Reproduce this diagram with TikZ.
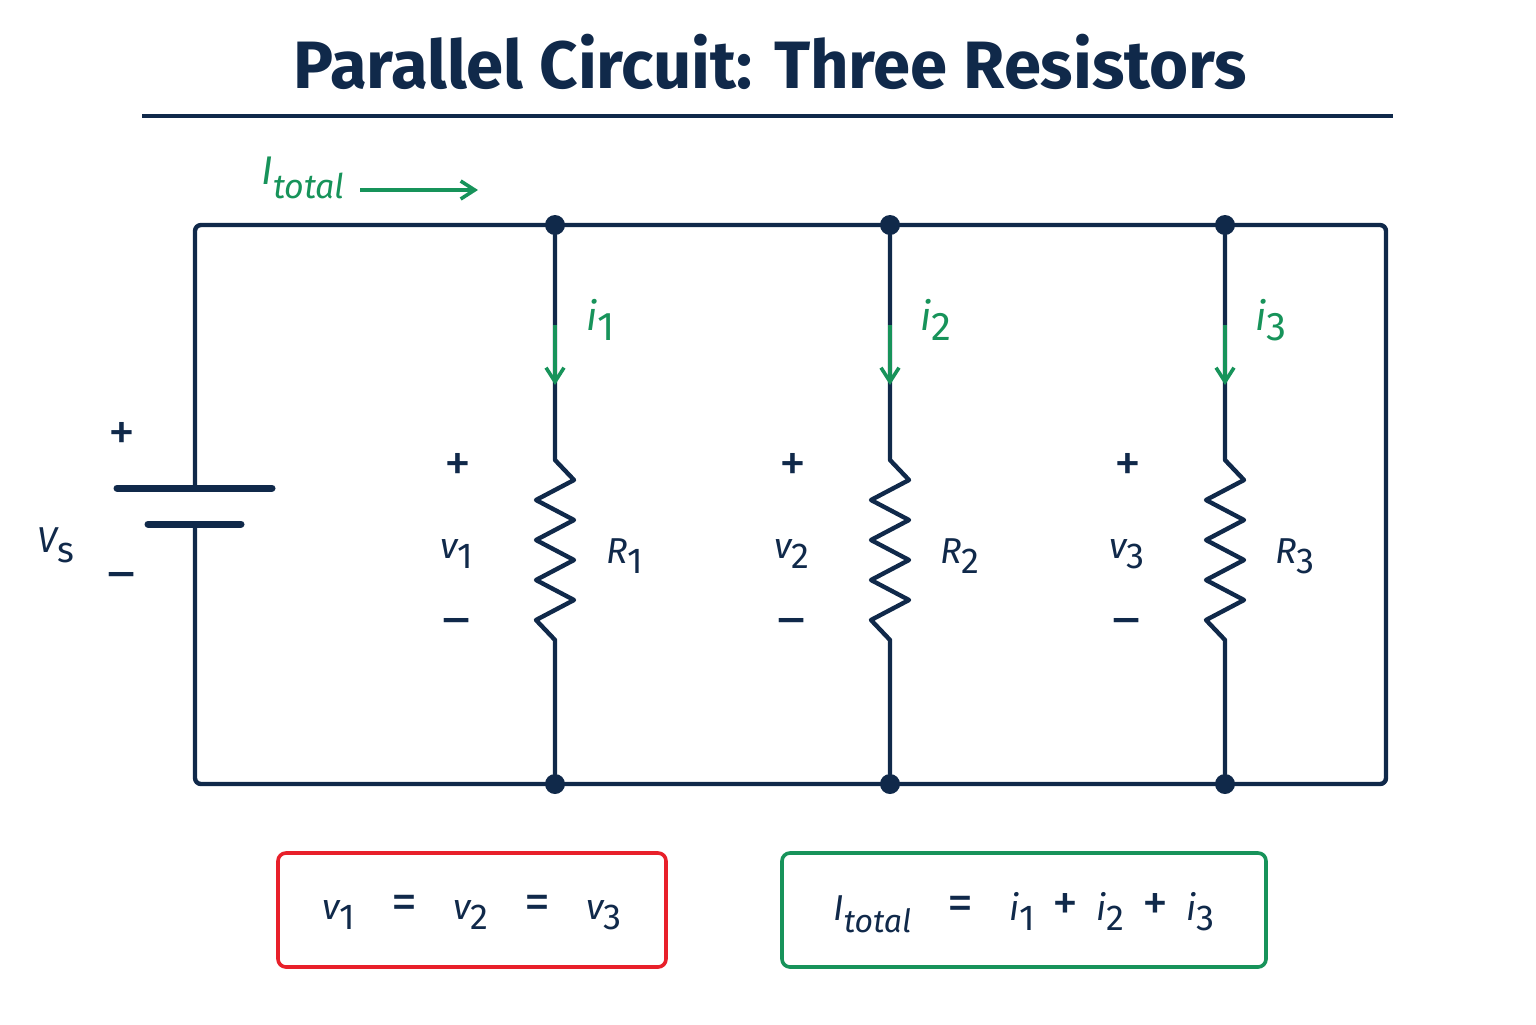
\documentclass[tikz,border=0pt]{standalone}
\usepackage{fontspec}
\setmainfont{Fira Sans}
\usetikzlibrary{arrows.meta}
\definecolor{navy}{HTML}{10294A}
\definecolor{grn}{HTML}{17935A}
\definecolor{rd}{HTML}{E8202A}
\newcommand{\sbs}[1]{\raisebox{-5pt}{\upshape #1}}
\newcommand{\op}[1]{{\upshape\fontsize{26}{26}\selectfont #1}}
\begin{document}
\begin{tikzpicture}[x=0.5pt,y=-0.5pt,
  wire/.style={navy,line width=2.2pt,line join=round,line cap=round},
  dot/.style={circle,fill=navy,inner sep=0pt,minimum size=10pt},
  lab/.style={text=navy,font=\fontsize{18}{20}\selectfont\itshape},
  pm/.style={text=navy,font=\fontsize{27}{28}\selectfont},
  glab/.style={text=grn,font=\fontsize{20}{22}\selectfont\itshape},
  garr/.style={grn,line width=1.8pt,-{Straight Barb[length=7pt,width=9pt]}},
  box/.style={line width=1.8pt,rounded corners=4pt}]
\useasboundingbox (0,0) rectangle (1536,1024);
\node[text=navy,font=\fontsize{33.5}{38}\selectfont\bfseries] (title) at (770,62) {Parallel Circuit: Three Resistors};
\coordinate (hl) at (142,116); \coordinate (hr) at (1393,116);
\draw[navy,line width=1.8pt] (hl) -- (hr);
% outer loop
\coordinate (bt) at (195,488); \coordinate (bb) at (195,524);
\draw[wire,rounded corners=3pt] (bt) -- (195,225) -- (1386,225) -- (1386,784) -- (195,784) -- (bb);
\draw[wire,line width=3.5pt] (117,488) -- (272,488);
\draw[wire,line width=3.5pt] (148,524) -- (241,524);
\node[pm] (bp) at (122,436) {+};
\node[pm] (bm) at (122,582) {–};
\node[lab] (vs) at (56,545) {V\sbs{s}};
% branches
\foreach \x/\n in {555/1,890/2,1225/3}{
  \node[dot] (t\n) at (\x,225) {};
  \node[dot] (b\n) at (\x,784) {};
  \coordinate (rt\n) at (\x,460);
  \coordinate (rb\n) at (\x,640);
  \draw[wire] (t\n) -- (rt\n) -- ++(19,20) -- ++(-38,20) -- ++(38,20) -- ++(-38,20) -- ++(38,20) -- ++(-38,20) -- ++(38,20) -- ++(-38,20) -- (rb\n) -- (b\n);
  \coordinate (as\n) at (\x,325); \coordinate (ae\n) at (\x,385);
  \draw[garr] (as\n) -- (ae\n);
  \node[glab] (i\n) at (\x+46,320) {i\sbs{\n}};
  \node[lab] (R\n) at (\x+70,556) {R\sbs{\n}};
  \node[lab] (v\n) at (\x-98,554) {v\sbs{\n}};
  \node[pm] (p\n) at (\x-97,467) {+};
  \node[pm] (m\n) at (\x-98,628) {–};
}
% total current
\node[glab] (It) at (303,178) {I\raisebox{-7pt}{\fontsize{17}{18}\selectfont total}};
\coordinate (ta) at (360,190); \coordinate (tb) at (478,190);
\draw[garr] (ta) -- (tb);
% boxes
\draw[box,rd] (278,853) rectangle (666,967);
\draw[box,grn] (782,853) rectangle (1266,967);
\node[lab] (eq1) at (472,913) {v\sbs{1}\quad\op{=}\quad v\sbs{2}\quad\op{=}\quad v\sbs{3}};
\node[lab] (eq2) at (1024,913) {I\raisebox{-6pt}{\fontsize{16}{18}\selectfont total}\quad\op{=}\quad i\sbs{1}\enspace\op{+}\enspace i\sbs{2}\enspace\op{+}\enspace i\sbs{3}};
\end{tikzpicture}
\end{document}
